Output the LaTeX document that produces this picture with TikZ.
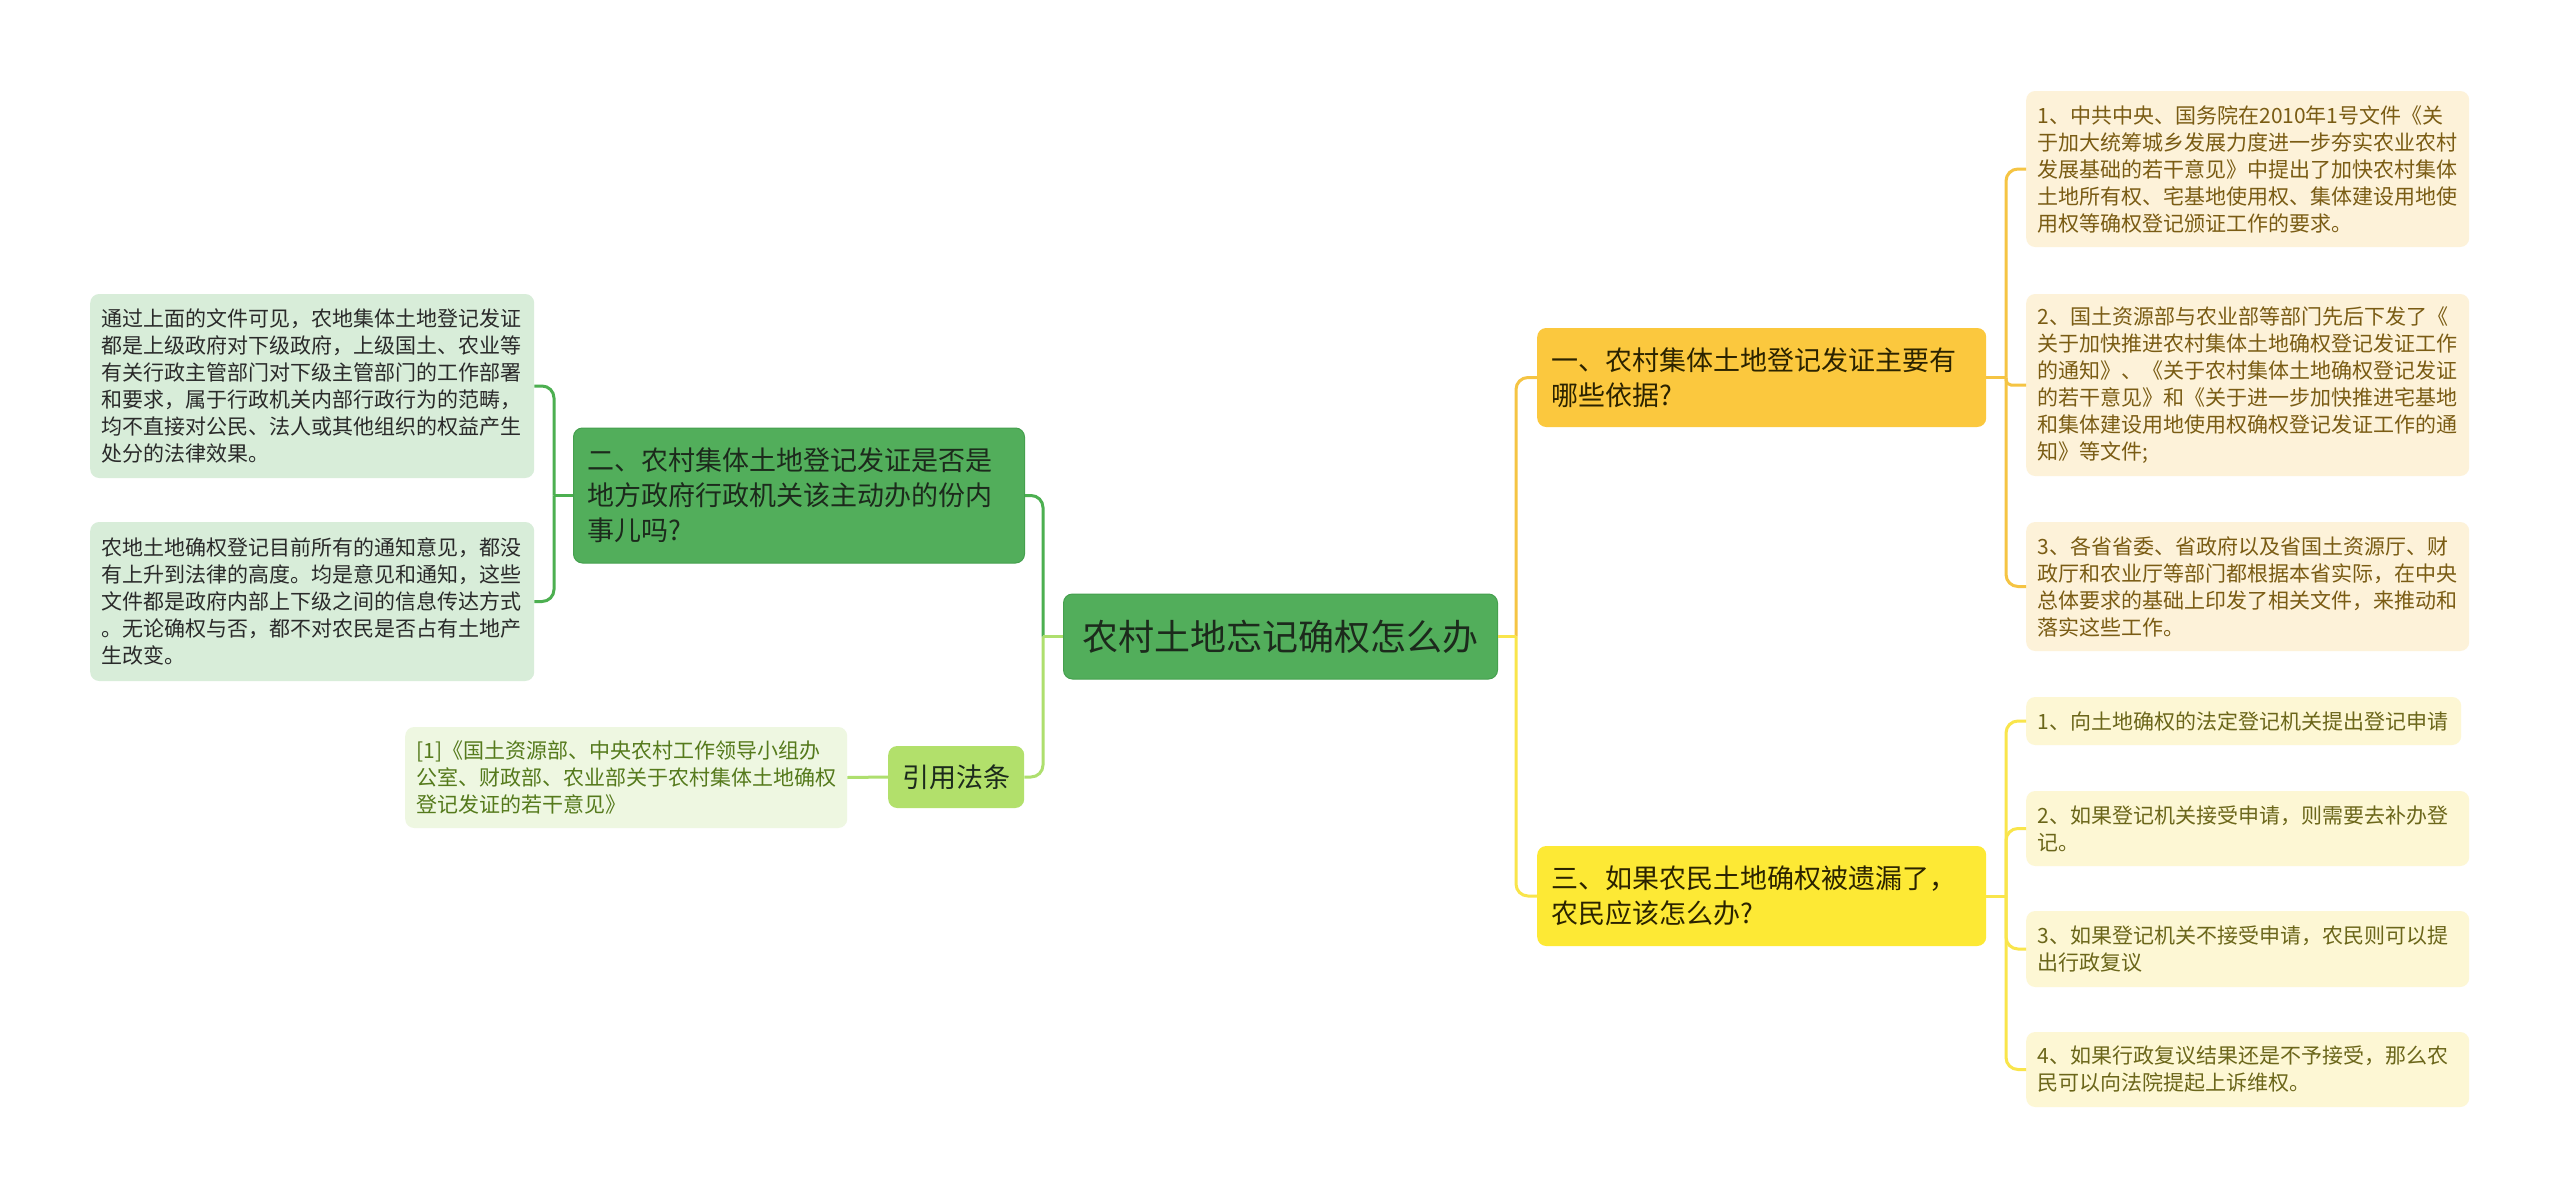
\documentclass[tikz,border=0pt]{standalone}
\usepackage{fontspec}
\setmainfont{Noto Sans CJK SC}
\definecolor{gfill}{HTML}{52AE5B}
\definecolor{gdraw}{HTML}{45A04E}
\definecolor{gtext}{HTML}{1C2A1C}
\definecolor{lgfill}{HTML}{D8EDD9}
\definecolor{lgtext}{HTML}{2A2A2A}
\definecolor{limefill}{HTML}{B2E06B}
\definecolor{citefill}{HTML}{EEF7E1}
\definecolor{citetext}{HTML}{557A1C}
\definecolor{amberfill}{HTML}{FBC83E}
\definecolor{ambertext}{HTML}{2B2300}
\definecolor{rfill}{HTML}{FDF2D9}
\definecolor{rtext}{HTML}{7A5C14}
\definecolor{yfill}{HTML}{FDE935}
\definecolor{cfill}{HTML}{FDF7D4}
\definecolor{ctext}{HTML}{6B661A}
\definecolor{cgreen}{HTML}{4CAF50}
\definecolor{clime}{HTML}{AEDF6E}
\definecolor{camber}{HTML}{F5C443}
\definecolor{cyellow}{HTML}{F9E54B}
\tikzset{
  box/.style={anchor=west, rounded corners=9pt, inner ysep=0pt, align=left},
  rootbox/.style={box, fill=gfill, draw=gdraw, line width=1pt, text=gtext, align=center,
     font=\fontsize{36}{44}\selectfont},
  mainbox/.style={box, font=\fontsize{27}{35}\selectfont, inner xsep=14pt},
  leafbox/.style={box, font=\fontsize{21}{27}\selectfont, inner xsep=11.5pt},
  conn/.style={line width=3pt},
}
\begin{document}
\begin{tikzpicture}[x=1pt,y=-1pt]
\useasboundingbox[fill=white] (0,0) rectangle (2560,1199);

% root
\node[rootbox, minimum width=434pt, minimum height=85pt] (root) at (1063,636.5) {农村土地忘记确权怎么办};

% left main
\node[mainbox, fill=gfill, draw=gdraw, line width=1pt, text=gtext, minimum width=451pt, minimum height=135pt, text width=423pt] (two) at (573,495.5)
 {二、农村集体土地登记发证是否是\\地方政府行政机关该主动办的份内\\事儿吗?};
\node[mainbox, fill=limefill, text=gtext, minimum width=136pt, minimum height=62pt] (cite) at (888,777) {引用法条};

% left leaves
\node[leafbox, fill=lgfill, text=lgtext, minimum width=444pt, minimum height=184pt, text width=421pt] (ll1) at (90,386)
 {通过上面的文件可见，农地集体土地登记发证\\都是上级政府对下级政府，上级国土、农业等\\有关行政主管部门对下级主管部门的工作部署\\和要求，属于行政机关内部行政行为的范畴，\\均不直接对公民、法人或其他组织的权益产生\\处分的法律效果。};
\node[leafbox, fill=lgfill, text=lgtext, minimum width=444pt, minimum height=159pt, text width=421pt] (ll2) at (90,601.5)
 {农地土地确权登记目前所有的通知意见，都没\\有上升到法律的高度。均是意见和通知，这些\\文件都是政府内部上下级之间的信息传达方式\\。无论确权与否，都不对农民是否占有土地产\\生改变。};
\node[leafbox, fill=citefill, text=citetext, minimum width=442pt, minimum height=101pt, text width=419pt] (cl) at (405,777.5)
 {[1]《国土资源部、中央农村工作领导小组办\\公室、财政部、农业部关于农村集体土地确权\\登记发证的若干意见》};

% right main
\node[mainbox, fill=amberfill, text=ambertext, minimum width=449pt, minimum height=99pt, text width=421pt] (one) at (1537,377.5)
 {一、农村集体土地登记发证主要有\\哪些依据?};
\node[mainbox, fill=yfill, text=ambertext, minimum width=449pt, minimum height=100pt, text width=421pt] (three) at (1537,896)
 {三、如果农民土地确权被遗漏了，\\农民应该怎么办?};

% right leaves (one)
\node[leafbox, fill=rfill, text=rtext, minimum width=443pt, minimum height=156pt, text width=420pt] (r1) at (2026,169)
 {1、中共中央、国务院在2010年1号文件《关\\于加大统筹城乡发展力度进一步夯实农业农村\\发展基础的若干意见》中提出了加快农村集体\\土地所有权、宅基地使用权、集体建设用地使\\用权等确权登记颁证工作的要求。};
\node[leafbox, fill=rfill, text=rtext, minimum width=443pt, minimum height=182pt, text width=420pt] (r2) at (2026,385)
 {2、国土资源部与农业部等部门先后下发了《\\关于加快推进农村集体土地确权登记发证工作\\的通知》、《关于农村集体土地确权登记发证\\的若干意见》和《关于进一步加快推进宅基地\\和集体建设用地使用权确权登记发证工作的通\\知》等文件;};
\node[leafbox, fill=rfill, text=rtext, minimum width=443pt, minimum height=129pt, text width=420pt] (r3) at (2026,586.5)
 {3、各省省委、省政府以及省国土资源厅、财\\政厅和农业厅等部门都根据本省实际，在中央\\总体要求的基础上印发了相关文件，来推动和\\落实这些工作。};

% right leaves (three)
\node[leafbox, fill=cfill, text=ctext, minimum width=435pt, minimum height=48pt, text width=412pt] (c1) at (2026,721)
 {1、向土地确权的法定登记机关提出登记申请};
\node[leafbox, fill=cfill, text=ctext, minimum width=443pt, minimum height=75pt, text width=420pt] (c2) at (2026,828.5)
 {2、如果登记机关接受申请，则需要去补办登\\记。};
\node[leafbox, fill=cfill, text=ctext, minimum width=443pt, minimum height=76pt, text width=420pt] (c3) at (2026,949)
 {3、如果登记机关不接受申请，农民则可以提\\出行政复议};
\node[leafbox, fill=cfill, text=ctext, minimum width=443pt, minimum height=75pt, text width=420pt] (c4) at (2026,1069.5)
 {4、如果行政复议结果还是不予接受，那么农\\民可以向法院提起上诉维权。};

% junctions
\coordinate (jR) at (1516,636.5);
\coordinate (jL) at (1043,636.5);
\coordinate (jL2) at (554,495.5);
\coordinate (jA) at (2006,377.5);
\coordinate (jB) at (2006,896);

% root -> right
\draw[conn, camber, rounded corners=12pt] (jR) |- (one.west);
\draw[conn, cyellow, rounded corners=12pt] (jR) |- (three.west);
\draw[conn, cyellow] (root.east) -- (jR);
% root -> left
\draw[conn, cgreen, rounded corners=12pt] (jL) |- (two.east);
\draw[conn, clime, rounded corners=12pt] (jL) |- (cite.east);
\draw[conn, clime] (root.west) -- (jL);
% two -> leaves
\draw[conn, cgreen] (two.west) -- (jL2);
\draw[conn, cgreen, rounded corners=12pt] (jL2) |- (ll1.east);
\draw[conn, cgreen, rounded corners=12pt] (jL2) |- (ll2.east);
% cite -> leaf
\draw[conn, clime] (cite.west) -- (cl.east);
% one -> leaves
\draw[conn, camber] (one.east) -- (jA);
\draw[conn, camber, rounded corners=12pt] (jA) |- (r1.west);
\draw[conn, camber, rounded corners=5pt] (jA) |- (r2.west);
\draw[conn, camber, rounded corners=12pt] (jA) |- (r3.west);
% three -> leaves
\draw[conn, cyellow] (three.east) -- (jB);
\draw[conn, cyellow, rounded corners=12pt] (jB) |- (c1.west);
\draw[conn, cyellow, rounded corners=12pt] (jB) |- (c2.west);
\draw[conn, cyellow, rounded corners=12pt] (jB) |- (c3.west);
\draw[conn, cyellow, rounded corners=12pt] (jB) |- (c4.west);
\end{tikzpicture}
\end{document}
